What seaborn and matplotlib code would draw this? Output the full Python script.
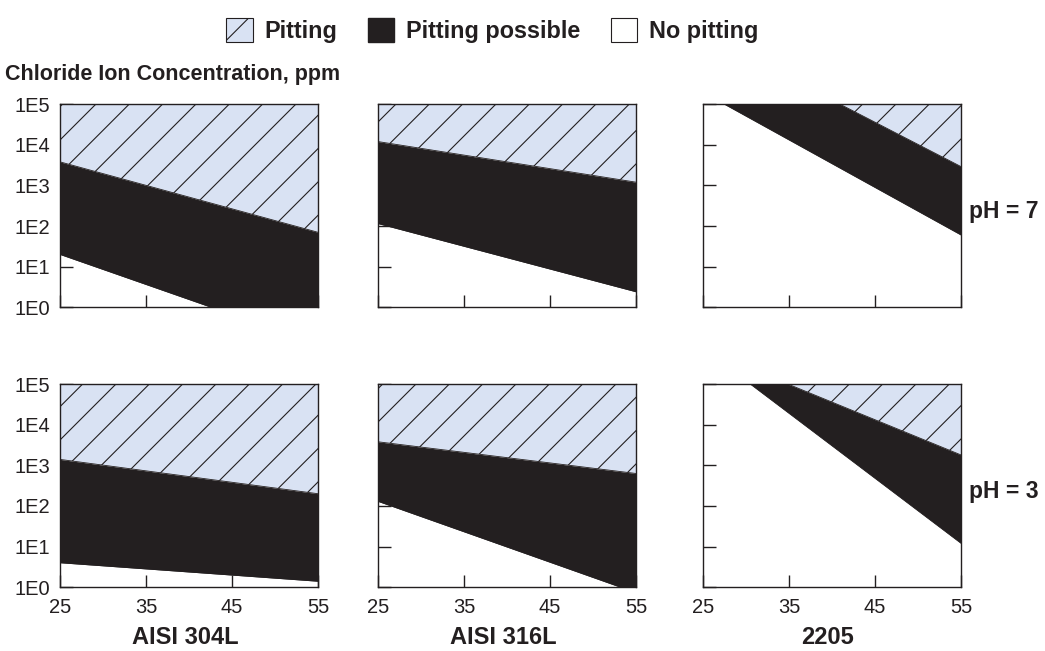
import numpy as np
import pandas as pd
import seaborn as sns
import matplotlib.pyplot as plt
from matplotlib.patches import Patch

# Temperature (°C) at the two ends of every boundary line
temps = [25, 55]
alloys = ['AISI 304L', 'AISI 316L', '2205']
ph_levels = ['pH = 7', 'pH = 3']

# Chloride (ppm) at 25 and 55 °C for each alloy
# lower = "no pitting" / "pitting possible", upper = "pitting possible" / "pitting"
lower_ph7 = [[20, 0.12], [115, 2.4], [1.95e5, 60]]
upper_ph7 = [[3800, 70], [12000, 1200], [5.5e6, 2900]]
lower_ph3 = [[4, 1.4], [130, 0.73], [7.6e5, 12]]
upper_ph3 = [[1400, 200], [3800, 630], [7.2e5, 1800]]

y_ticks = [1, 10, 100, 1e3, 1e4, 1e5]
y_tick_labels = ['1E0', '1E1', '1E2', '1E3', '1E4', '1E5']
x_ticks = [25, 35, 45, 55]

# long table for seaborn
rows = []
for ph, lows, ups in [('pH = 7', lower_ph7, upper_ph7), ('pH = 3', lower_ph3, upper_ph3)]:
    for alloy, lo, up in zip(alloys, lows, ups):
        for t, vlo, vup in zip(temps, lo, up):
            rows.append({'ph': ph, 'alloy': alloy, 'temp': t, 'lower': vlo, 'upper': vup})
df = pd.DataFrame(rows)

sns.set_style('white')
plt.rcParams['font.family'] = ['Liberation Sans', 'DejaVu Sans']
plt.rcParams['hatch.linewidth'] = 0.8

ink = '#231f20'
blue = '#d9e2f3'

fig = plt.figure(figsize=(10.45, 6.51), dpi=100)

lefts = [0.0574, 0.3617, 0.6727]
width = 0.247
bottoms = [0.528, 0.098]
height = 0.312

for r, ph in enumerate(ph_levels):
    for c, alloy in enumerate(alloys):
        ax = fig.add_axes([lefts[c], bottoms[r], width, height])
        d = df[(df['ph'] == ph) & (df['alloy'] == alloy)]

        # pitting zone (hatched), pitting possible (black)
        ax.fill_between(d['temp'], d['upper'], 1e7, facecolor=blue,
                        edgecolor=ink, hatch='/', linewidth=0)
        ax.fill_between(d['temp'], d['lower'], d['upper'], color=ink, linewidth=0)
        sns.lineplot(data=d, x='temp', y='lower', color=ink, lw=0.6, ax=ax)
        sns.lineplot(data=d, x='temp', y='upper', color=ink, lw=0.6, ax=ax)

        ax.set_yscale('log')
        ax.set_ylim(1, 1e5)
        ax.set_xlim(25, 55)
        ax.set_xlabel('')
        ax.set_ylabel('')
        ax.set_yticks(y_ticks)
        ax.minorticks_off()
        ax.set_xticks(x_ticks)
        ax.tick_params(direction='in', length=9, width=1, colors=ink,
                       labelsize=14.5, labelcolor=ink, bottom=True, left=True)
        ax.tick_params(axis='y', pad=7)
        ax.tick_params(axis='x', pad=8)
        if c == 0:
            ax.set_yticklabels(y_tick_labels)
        else:
            ax.set_yticklabels([])
        if r == 0:
            ax.set_xticklabels([])
        for s in ax.spines.values():
            s.set_visible(True)
            s.set_color(ink)
            s.set_linewidth(1)

        if r == 1:
            fig.text(lefts[c] + width / 2 - 0.004, 0.02, alloy, ha='center', va='center',
                     fontsize=17, fontweight='bold', color=ink)

fig.text(0.927, 0.675, 'pH = 7', ha='left', va='center', fontsize=16.5,
         fontweight='bold', color=ink)
fig.text(0.927, 0.245, 'pH = 3', ha='left', va='center', fontsize=16.5,
         fontweight='bold', color=ink)
fig.text(0.005, 0.885, 'Chloride Ion Concentration, ppm', ha='left', va='center',
         fontsize=15.5, fontweight='bold', color=ink)

legend_elements = [
    Patch(facecolor=blue, edgecolor=ink, hatch='/', linewidth=0.8, label='Pitting'),
    Patch(facecolor=ink, edgecolor=ink, label='Pitting possible'),
    Patch(facecolor='white', edgecolor=ink, linewidth=0.8, label='No pitting'),
]
leg = fig.legend(handles=legend_elements, loc='center', bbox_to_anchor=(0.471, 0.953),
                 ncol=3, frameon=False, handlelength=1.15, handleheight=1.2,
                 handletextpad=0.5, columnspacing=1.3,
                 prop={'size': 16.8, 'weight': 'bold'})
for t in leg.get_texts():
    t.set_color(ink)

fig.savefig('out.png', dpi=100)
